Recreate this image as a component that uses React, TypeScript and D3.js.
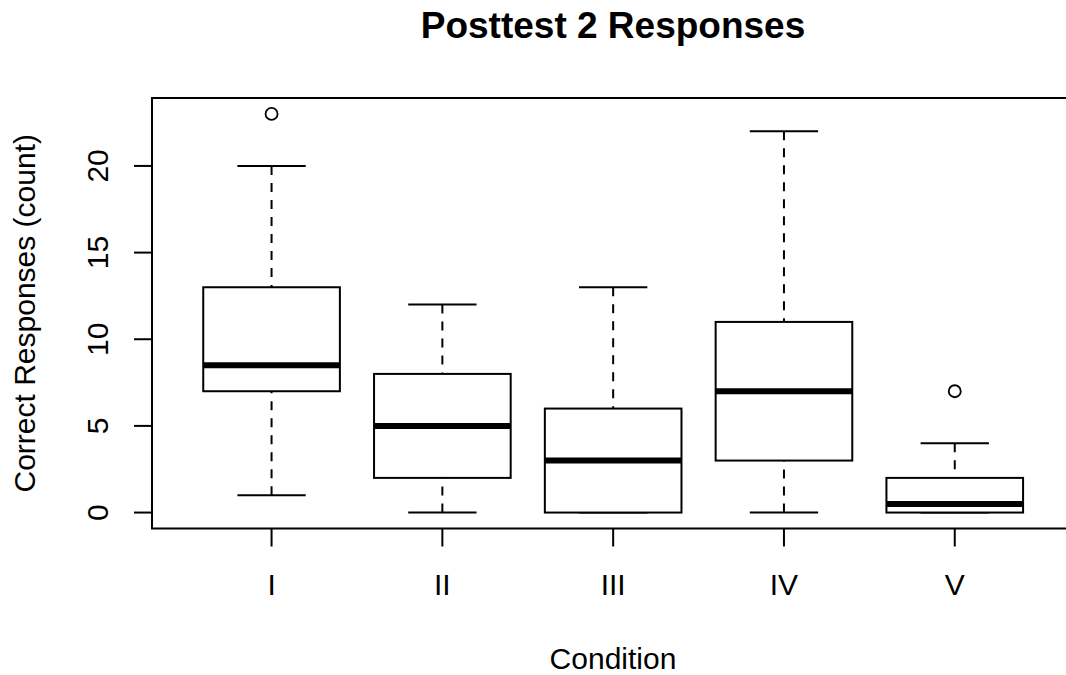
import React from 'react';
import * as d3 from 'd3';

const conditions = ['I', 'II', 'III', 'IV', 'V'];
const lowerWhisker = [1, 0, 0, 0, 0];
const q1 = [7, 2, 0, 3, 0];
const median = [8.5, 5, 3, 7, 0.5];
const q3 = [13, 8, 6, 11, 2];
const upperWhisker = [20, 12, 13, 22, 4];
const outliers = [[23], [], [], [], [7]];
const yTicks = [0, 5, 10, 15, 20];

const W = 1066;
const H = 675;
const font = '"Liberation Sans", Arial, sans-serif';

export default function App() {
  const left = 152;
  const top = 98;
  const bottom = 528.5;
  const step = 170.8;
  const right = left + 5.4 * step;

  const x = d3.scaleLinear().domain([0.3, 5.7]).range([left, right]);
  const y = d3.scaleLinear().domain([-0.92, 23.92]).range([bottom, top]);

  const boxW = 0.8 * step;
  const capW = boxW / 2;

  return (
    <svg width={W} height={H} style={{ position: 'absolute', left: 0, top: 0, background: '#fff' }}>
      <text x={613} y={38} textAnchor="middle" fontFamily={font} fontWeight="bold" fontSize={37}>
        Posttest 2 Responses
      </text>

      {conditions.map((c, i) => {
        const cx = x(i + 1);
        return (
          <g key={c} stroke="#000" fill="none">
            <line x1={cx} x2={cx} y1={y(upperWhisker[i])} y2={y(q3[i])} strokeWidth={2} strokeDasharray="9,8" />
            <line x1={cx} x2={cx} y1={y(lowerWhisker[i])} y2={y(q1[i])} strokeWidth={2} strokeDasharray="9,8" />
            <line x1={cx - capW / 2} x2={cx + capW / 2} y1={y(upperWhisker[i])} y2={y(upperWhisker[i])} strokeWidth={2} />
            <line x1={cx - capW / 2} x2={cx + capW / 2} y1={y(lowerWhisker[i])} y2={y(lowerWhisker[i])} strokeWidth={2} />
            <rect x={cx - boxW / 2} y={y(q3[i])} width={boxW} height={y(q1[i]) - y(q3[i])} strokeWidth={2} fill="#fff" />
            <line x1={cx - boxW / 2} x2={cx + boxW / 2} y1={y(median[i])} y2={y(median[i])} strokeWidth={6} />
            {outliers[i].map((o, j) => (
              <circle key={j} cx={cx} cy={y(o)} r={6} strokeWidth={1.8} />
            ))}
            <line x1={cx} x2={cx} y1={bottom} y2={bottom + 18} strokeWidth={2} />
            <text x={cx} y={595} textAnchor="middle" fontFamily={font} fontSize={30} fill="#000" stroke="none">
              {c}
            </text>
          </g>
        );
      })}

      <rect x={left} y={top} width={right - left} height={bottom - top} fill="none" stroke="#000" strokeWidth={2} />

      <line x1={left} x2={left} y1={y(0)} y2={y(20)} stroke="#000" strokeWidth={2} />
      {yTicks.map(t => (
        <g key={t}>
          <line x1={left - 18} x2={left} y1={y(t)} y2={y(t)} stroke="#000" strokeWidth={2} />
          <text
            transform={`translate(108,${y(t)}) rotate(-90)`}
            textAnchor="middle"
            fontFamily={font}
            fontSize={30}
          >
            {t}
          </text>
        </g>
      ))}

      <text x={613} y={669} textAnchor="middle" fontFamily={font} fontSize={30}>
        Condition
      </text>
      <text transform={`translate(35,${(top + bottom) / 2}) rotate(-90)`} textAnchor="middle" fontFamily={font} fontSize={30}>
        Correct Responses (count)
      </text>
    </svg>
  );
}
